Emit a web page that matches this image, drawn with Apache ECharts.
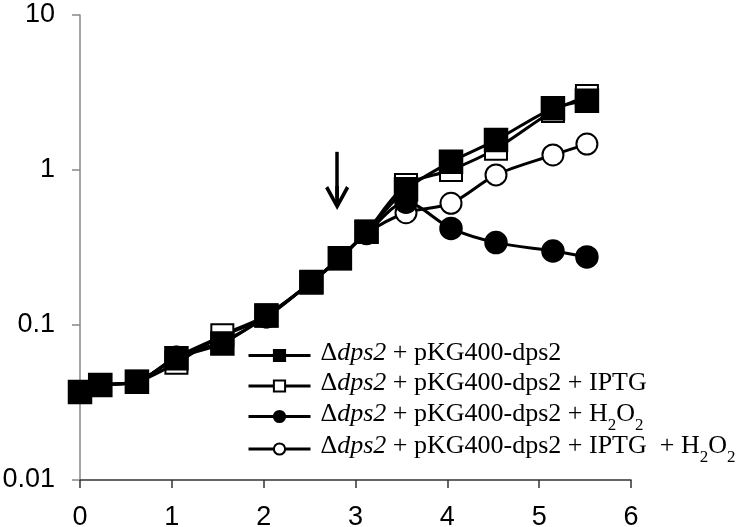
<!DOCTYPE html>
<html>
<head>
<meta charset="utf-8">
<script src="https://cdn.jsdelivr.net/npm/echarts@6/dist/echarts.min.js"></script>
<style>
  html, body { margin: 0; padding: 0; background: #fff; }
  #chartmain { width: 750px; height: 527px; }
</style>
</head>
<body>
<div id="chartmain"></div>
<script>
// sampling times (x)
var times = [0, 0.22, 0.62, 1.05, 1.55, 2.03, 2.52, 2.83, 3.12, 3.55, 4.04, 4.53, 5.15, 5.52];
// values for each strain / treatment
var data_plain   = [0.037, 0.041, 0.043, 0.061, 0.076, 0.115, 0.188, 0.27, 0.40, 0.75, 1.13, 1.56, 2.5, 2.8];
var data_iptg    = [0.037, 0.041, 0.043, 0.057, 0.086, 0.115, 0.19, 0.27, 0.40, 0.80, 1.0, 1.37, 2.4, 3.0];
var data_h2o2    = [0.037, 0.041, 0.043, 0.062, 0.078, 0.113, 0.19, 0.27, 0.39, 0.62, 0.42, 0.34, 0.30, 0.275];
var data_both    = [0.037, 0.041, 0.043, 0.062, 0.085, 0.113, 0.19, 0.27, 0.39, 0.53, 0.61, 0.93, 1.25, 1.47];
var names = ['plain', 'iptg', 'h2o2', 'both'];
var x_ticks = [0, 1, 2, 3, 4, 5, 6];
var y_ticks = [0.01, 0.1, 1, 10];
// arrow marking the H2O2 addition
var arrow_x = 2.8, arrow_from = 1.31, arrow_to = 0.66;

function pairs(ys) {
    return ys.map(function (v, i) { return [times[i], v]; });
}

var legendText = {
    plain: '{n|Δ}{it|dps2}{n| + pKG400-dps2}',
    iptg: '{n|Δ}{it|dps2}{n| + pKG400-dps2 + IPTG}',
    h2o2: '{n|Δ}{it|dps2}{n| + pKG400-dps2 + H}{sub|2}{n|O}{sub|2}',
    both: '{n|Δ}{it|dps2}{n| + pKG400-dps2 + IPTG  + H}{sub|2}{n|O}{sub|2}'
};

var serif = '"Liberation Serif", "Times New Roman", serif';
var sans = '"Liberation Sans", Arial, sans-serif';

function lineSeries(name, data, symbol, size, z) {
    return {
        name: name,
        type: 'line',
        data: pairs(data),
        smooth: 0.3,
        symbol: symbol,
        symbolSize: size,
        z: z,
        lineStyle: { color: '#000', width: 3 },
        itemStyle: { color: '#000', borderColor: '#000', borderWidth: 2.5 }
    };
}

var sPlain = lineSeries('plain', data_plain, 'rect', 22, 5);
sPlain.markLine = {
    silent: true,
    symbol: ['none', 'path://M10,0 L20,18 L17.5,20 L11.5,9 L11.5,20 L8.5,20 L8.5,9 L2.5,20 L0,18 Z'],
    symbolSize: [24, 24],
    lineStyle: { color: '#000', width: 3.5, type: 'solid' },
    label: { show: false },
    data: [[{ coord: [arrow_x, arrow_from] }, { coord: [arrow_x, arrow_to] }]]
};

var option = {
    backgroundColor: '#fff',
    animation: false,
    grid: { left: 80, right: 119, top: 15, bottom: 47, outerBoundsMode: 'none' },
    xAxis: {
        type: 'value',
        min: x_ticks[0],
        max: x_ticks[x_ticks.length - 1],
        interval: 1,
        splitLine: { show: false },
        axisLine: { lineStyle: { color: '#333', width: 1.5 } },
        axisTick: { length: 8, lineStyle: { color: '#333', width: 1.5 } },
        axisLabel: { color: '#000', fontSize: 27, fontFamily: sans, margin: 24 }
    },
    yAxis: {
        type: 'log',
        logBase: 10,
        min: y_ticks[0],
        max: y_ticks[y_ticks.length - 1],
        splitLine: { show: false },
        minorTick: { show: false },
        axisLine: { lineStyle: { color: '#888', width: 1.5 } },
        axisTick: { length: 8, lineStyle: { color: '#888', width: 1.5 } },
        axisLabel: {
            color: '#000', fontSize: 27, fontFamily: sans, margin: 25,
            formatter: function (v) { return String(Number(v.toPrecision(2))); }
        }
    },
    legend: {
        left: 247,
        top: 340,
        padding: 0,
        orient: 'vertical',
        align: 'left',
        itemWidth: 62,
        itemHeight: 14,
        itemGap: -0.5,
        data: names,
        lineStyle: { width: 3 },
        formatter: function (n) { return legendText[n]; },
        textStyle: {
            padding: [0, 0, 0, 5],
            rich: {
                n: { fontFamily: serif, fontSize: 26, color: '#000', lineHeight: 31, padding: [0, 0, 5, 0], verticalAlign: 'top' },
                it: { fontFamily: serif, fontSize: 26, fontStyle: 'italic', color: '#000', lineHeight: 31, padding: [0, 0, 5, 0], verticalAlign: 'top' },
                sub: { fontFamily: serif, fontSize: 17, color: '#000', lineHeight: 20, padding: [16, 0, 0, 0], verticalAlign: 'top' }
            }
        }
    },
    series: [
        lineSeries('both', data_both, 'emptyCircle', 21, 2),
        lineSeries('h2o2', data_h2o2, 'circle', 21, 3),
        lineSeries('iptg', data_iptg, 'emptyRect', 22, 4),
        sPlain
    ]
};

var myChart = echarts.init(document.getElementById('chartmain'));
myChart.setOption(option);
</script>
</body>
</html>
